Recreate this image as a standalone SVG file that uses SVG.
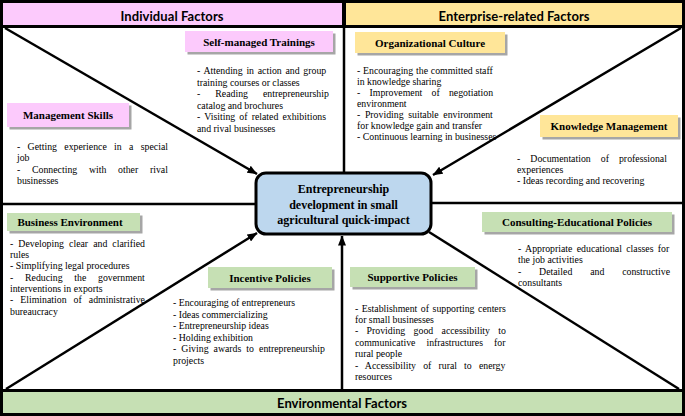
<svg xmlns="http://www.w3.org/2000/svg" width="685" height="416" viewBox="0 0 685 416">
<style>
.hdr{font-family:Lato,"Liberation Sans",sans-serif;font-weight:700;font-size:13px;text-anchor:middle;fill:#000}
.lbl{font-family:"Liberation Serif","Times New Roman",serif;font-weight:700;font-size:11px;text-anchor:middle;fill:#000}
.ctr{font-family:"Liberation Serif","Times New Roman",serif;font-weight:700;font-size:12px;text-anchor:middle;fill:#000}
.b{font-family:"Liberation Serif","Times New Roman",serif;font-size:9.8px;fill:#000}
.sh{fill:#a6a6a6}
.pk{fill:#fccafc}
.yl{fill:#ffe699}
.gr{fill:#c6e0b4}
.ln{stroke:#000;stroke-width:2.5;fill:none}
.ar{marker-end:url(#ah)}
</style>
<defs>
<marker id="ah" markerWidth="10" markerHeight="8" refX="9.5" refY="4" orient="auto" markerUnits="userSpaceOnUse"><path d="M0,0 L10,4 L0,8 z" fill="#000"/></marker>
</defs>
<rect x="0" y="0" width="685" height="416" fill="#000"/>
<g id="individual-factors"><rect x="3" y="3" width="339" height="22" class="pk"/><text class="hdr" x="172" y="21" textLength="103">Individual Factors</text></g>
<g id="enterprise-factors"><rect x="346" y="3" width="336" height="22" class="yl"/><text class="hdr" x="514" y="21" textLength="151">Enterprise-related Factors</text></g>
<rect x="3" y="28" width="679" height="361" fill="#fff"/>
<g id="environmental-factors"><rect x="3" y="392" width="679" height="21" class="gr"/><text class="hdr" x="342" y="408" textLength="130">Environmental Factors</text></g>

<g id="connectors">
<path class="ln" d="M344,25 V174" stroke-width="3"/>
<path class="ln" d="M3,204 H257" stroke-width="3"/>
<path class="ln" d="M430,203 H682" stroke-width="3"/>
<path class="ln ar" d="M5,28 L257,174"/>
<path class="ln ar" d="M681,28 L433,175"/>
<path class="ln ar" d="M6,389 L257,233"/>
<path class="ln" d="M429,232 L679,389"/>
<path class="ln ar" d="M342,390 V236"/>
</g>

<g id="center">
<rect x="256" y="173" width="175" height="61" rx="10" fill="#bdd7ee" stroke="#000" stroke-width="3"/>
<text class="ctr" x="343.5" y="193">Entrepreneurship</text>
<text class="ctr" x="343.5" y="208.5">development in small</text>
<text class="ctr" x="343.5" y="224">agricultural quick-impact</text>
</g>

<g id="self-managed-trainings">
<rect x="187.5" y="33.5" width="148" height="21" class="sh"/>
<rect x="185" y="31" width="148" height="21" class="pk"/>
<text class="lbl" x="259" y="46">Self-managed Trainings</text>
<text class="b" x="197" y="74" style="word-spacing:1.3px">- Attending in action and group</text>
<text class="b" x="197" y="85.5">training courses or classes</text>
<text class="b" x="197" y="97" style="word-spacing:12.6px">- Reading entrepreneurship</text>
<text class="b" x="197" y="108.5">catalog and brochures</text>
<text class="b" x="197" y="120" style="word-spacing:1.7px">- Visiting of related exhibitions</text>
<text class="b" x="197" y="131.5">and rival businesses</text>
</g>

<g id="management-skills">
<rect x="9.5" y="105.5" width="122" height="24" class="sh"/>
<rect x="7" y="103" width="122" height="24" class="pk"/>
<text class="lbl" x="68" y="119">Management Skills</text>
<text class="b" x="17" y="149.5" style="word-spacing:4.9px">- Getting experience in a special</text>
<text class="b" x="17" y="161">job</text>
<text class="b" x="17" y="172.5" style="word-spacing:9.3px">- Connecting with other rival</text>
<text class="b" x="17" y="184">businesses</text>
</g>

<g id="organizational-culture">
<rect x="357.5" y="34.5" width="150" height="21" class="sh"/>
<rect x="355" y="32" width="150" height="21" class="yl"/>
<text class="lbl" x="430" y="46.5">Organizational Culture</text>
<text class="b" x="357" y="73.5" style="word-spacing:0.4px">- Encouraging the committed staff</text>
<text class="b" x="357" y="84.5">in knowledge sharing</text>
<text class="b" x="357" y="95.5" style="word-spacing:6.8px">- Improvement of negotiation</text>
<text class="b" x="357" y="106.5">environment</text>
<text class="b" x="357" y="117.5" style="word-spacing:2.2px">- Providing suitable environment</text>
<text class="b" x="357" y="128.5">for knowledge gain and transfer</text>
<text class="b" x="357" y="139.5">- Continuous learning in businesses</text>
</g>

<g id="knowledge-management">
<rect x="542.5" y="117.5" width="138" height="22" class="sh"/>
<rect x="540" y="115" width="138" height="22" class="yl"/>
<text class="lbl" x="609" y="129.5">Knowledge Management</text>
<text class="b" x="517" y="161.5" style="word-spacing:7.6px">- Documentation of professional</text>
<text class="b" x="517" y="172.5">experiences</text>
<text class="b" x="517" y="184">- Ideas recording and recovering</text>
</g>

<g id="business-environment">
<rect x="9.5" y="215.5" width="133" height="18" class="sh"/>
<rect x="7" y="213" width="133" height="18" class="gr"/>
<text class="lbl" x="70" y="226">Business Environment</text>
<text class="b" x="10" y="246.5" style="word-spacing:2.6px">- Developing clear and clarified</text>
<text class="b" x="10" y="258">rules</text>
<text class="b" x="10" y="269">- Simplifying legal procedures</text>
<text class="b" x="10" y="280.5" style="word-spacing:9.3px">- Reducing the government</text>
<text class="b" x="10" y="291.5">interventions in exports</text>
<text class="b" x="10" y="303" style="word-spacing:4.6px">- Elimination of administrative</text>
<text class="b" x="10" y="314.5">bureaucracy</text>
</g>

<g id="incentive-policies">
<rect x="210.5" y="269.5" width="124" height="21" class="sh"/>
<rect x="208" y="267" width="124" height="21" class="gr"/>
<text class="lbl" x="270" y="281.5">Incentive Policies</text>
<text class="b" x="173" y="306">- Encouraging of entrepreneurs</text>
<text class="b" x="173" y="317.5">- Ideas commercializing</text>
<text class="b" x="173" y="329">- Entrepreneurship ideas</text>
<text class="b" x="173" y="340.5">- Holding exhibition</text>
<text class="b" x="173" y="352" style="word-spacing:2.6px">- Giving awards to entrepreneurship</text>
<text class="b" x="173" y="363.5">projects</text>
</g>

<g id="supportive-policies">
<rect x="352.5" y="269.5" width="125" height="20" class="sh"/>
<rect x="350" y="267" width="125" height="20" class="gr"/>
<text class="lbl" x="412.5" y="281">Supportive Policies</text>
<text class="b" x="355" y="311.5" style="word-spacing:1.1px">- Establishment of supporting centers</text>
<text class="b" x="355" y="322.5">for small businesses</text>
<text class="b" x="355" y="334" style="word-spacing:5.9px">- Providing good accessibility to</text>
<text class="b" x="355" y="345.5" style="word-spacing:8.6px">communicative infrastructures for</text>
<text class="b" x="355" y="357">rural people</text>
<text class="b" x="355" y="368.5" style="word-spacing:4.7px">- Accessibility of rural to energy</text>
<text class="b" x="355" y="380">resources</text>
</g>

<g id="consulting-educational-policies">
<rect x="484.5" y="214.5" width="190" height="20" class="sh"/>
<rect x="482" y="212" width="190" height="20" class="gr"/>
<text class="lbl" x="577" y="226">Consulting-Educational Policies</text>
<text class="b" x="518" y="251.5" style="word-spacing:1.9px">- Appropriate educational classes for</text>
<text class="b" x="518" y="263">the job activities</text>
<text class="b" x="518" y="274.5" style="word-spacing:15.4px">- Detailed and constructive</text>
<text class="b" x="518" y="286">consultants</text>
</g>
</svg>
